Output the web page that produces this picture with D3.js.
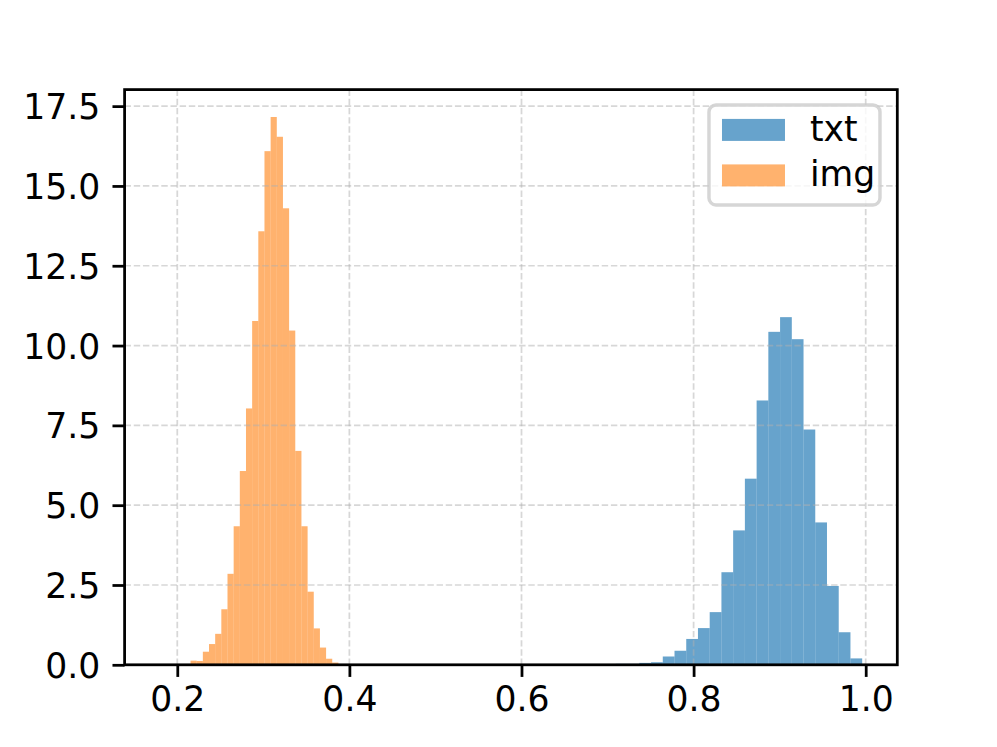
<!DOCTYPE html>
<html>
<head>
<meta charset="utf-8">
<script src="https://cdn.jsdelivr.net/npm/d3@7"></script>
<style>
  body { margin: 0; background: #fff; }
  text { font-family: "DejaVu Sans", sans-serif; fill: #000; }
</style>
</head>
<body>
<div id="chart"></div>
<script>
///////////////////////////////////////////////////////////////////////////////
//// Data /////////////////////////////////////////////////////////////////////
///////////////////////////////////////////////////////////////////////////////
// 30 equal bins per series, density heights
const seriesNames = ["txt", "img"];
const txtRange = [0.5870, 0.9959];
const txtDensity = [0, 0, 0, 0, 0, 0, 0, 0, 0, 0.03,
  0.03, 0.06, 0.08, 0.26, 0.44, 0.81, 1.15, 1.65, 2.90, 4.21,
  5.83, 8.28, 10.43, 10.89, 10.20, 7.37, 4.46, 2.47, 1.02, 0.20];
const imgRange = [0.1796, 0.3944];
const imgDensity = [0, 0, 0.02, 0, 0, 0.13, 0.12, 0.41, 0.65, 0.97,
  1.74, 2.85, 4.34, 6.07, 8.03, 10.77, 13.58, 16.09, 17.16, 16.54,
  14.30, 10.47, 6.70, 4.34, 2.29, 1.14, 0.54, 0.19, 0.07, 0.02];
const xTicks = [0.2, 0.4, 0.6, 0.8, 1.0];
const yTicks = [0, 2.5, 5, 7.5, 10, 12.5, 15, 17.5];

///////////////////////////////////////////////////////////////////////////////
//// Set up ///////////////////////////////////////////////////////////////////
///////////////////////////////////////////////////////////////////////////////
const W = 997, H = 747;
const margin = {top: 89.6, right: 99.7, bottom: 82.2, left: 124.6};
const width = W - margin.left - margin.right;
const height = H - margin.top - margin.bottom;
const pt = 249.3 / 72; // figure dpi

const color = d3.scaleOrdinal()
  .domain(seriesNames)
  .range(["#1f77b4", "#ff7f0e"]);
const alpha = {txt: 0.68, img: 0.6};

function toBins(range, values) {
  const w = (range[1] - range[0]) / values.length;
  return values.map((v, i) => ({x0: range[0] + i * w, x1: range[0] + (i + 1) * w, value: v}));
}
const series = [
  {name: "txt", bins: toBins(txtRange, txtDensity)},
  {name: "img", bins: toBins(imgRange, imgDensity)}
];

// matplotlib style autoscale: 5% x margins, y from 0 with 5% headroom
const lo = d3.min([txtRange[0], imgRange[0]]);
const hi = d3.max([txtRange[1], imgRange[1]]);
const pad = (hi - lo) * 0.05;
const x = d3.scaleLinear().domain([lo - pad, hi + pad]).range([0, width]);
const yMax = d3.max([d3.max(txtDensity), d3.max(imgDensity)]) * 1.05;
const y = d3.scaleLinear().domain([0, yMax]).range([height, 0]);

const svg = d3.select("#chart").append("svg")
  .attr("width", W)
  .attr("height", H);
const g = svg.append("g")
  .attr("transform", `translate(${margin.left}, ${margin.top})`);

///////////////////////////////////////////////////////////////////////////////
//// Bars /////////////////////////////////////////////////////////////////////
///////////////////////////////////////////////////////////////////////////////
series.forEach(s => {
  g.append("g")
    .attr("class", `hist-${s.name}`)
    .selectAll("rect")
    .data(s.bins.filter(d => d.value > 0))
    .enter().append("rect")
      .attr("x", d => x(d.x0))
      .attr("y", d => y(d.value))
      .attr("width", d => x(d.x1) - x(d.x0))
      .attr("height", d => y(0) - y(d.value))
      .style("fill", color(s.name))
      .style("fill-opacity", alpha[s.name]);
});

///////////////////////////////////////////////////////////////////////////////
//// Grid (drawn over patches, like matplotlib) ///////////////////////////////
///////////////////////////////////////////////////////////////////////////////
const grid = g.append("g").attr("class", "grid")
  .style("stroke", "#b0b0b0")
  .style("stroke-opacity", 0.5)
  .style("stroke-width", 0.5 * pt)
  .style("stroke-dasharray", `${3.7 * 0.5 * pt},${1.6 * 0.5 * pt}`);

grid.selectAll(".gx").data(xTicks).enter().append("line")
  .attr("x1", d => x(d)).attr("x2", d => x(d))
  .attr("y1", 0).attr("y2", height);
grid.selectAll(".gy").data(yTicks).enter().append("line")
  .attr("x1", 0).attr("x2", width)
  .attr("y1", d => y(d)).attr("y2", d => y(d));

///////////////////////////////////////////////////////////////////////////////
//// Axes /////////////////////////////////////////////////////////////////////
///////////////////////////////////////////////////////////////////////////////
const fontSize = 10 * pt;
const tickLen = 3.5 * pt;

const xAxis = g.append("g")
  .attr("transform", `translate(0, ${height})`)
  .call(d3.axisBottom(x).tickValues(xTicks).tickFormat(d3.format(".1f"))
    .tickSize(tickLen).tickPadding(3.5 * pt));
const yAxis = g.append("g")
  .call(d3.axisLeft(y).tickValues(yTicks).tickFormat(d3.format(".1f"))
    .tickSize(tickLen).tickPadding(3.5 * pt));

[xAxis, yAxis].forEach(a => {
  a.select(".domain").remove();
  a.selectAll(".tick line").style("stroke", "#000").style("stroke-width", 0.8 * pt);
  a.selectAll(".tick text")
    .style("font-size", `${fontSize}px`)
    .style("font-family", "DejaVu Sans");
});
xAxis.selectAll(".tick text").attr("dy", "0.62em");
yAxis.selectAll(".tick text").attr("dy", "0.36em");

// Spines
g.append("rect")
  .attr("width", width)
  .attr("height", height)
  .style("fill", "none")
  .style("stroke", "#000")
  .style("stroke-width", 0.8 * pt);

///////////////////////////////////////////////////////////////////////////////
//// Legend ///////////////////////////////////////////////////////////////////
///////////////////////////////////////////////////////////////////////////////
const lg = {w: 171, h: 100, rowH: 45.5, patchW: 63, patchH: 22};
const legend = g.append("g")
  .attr("transform", `translate(${width - 0.5 * fontSize - lg.w}, ${0.5 * fontSize - 2})`);

legend.append("rect")
  .attr("width", lg.w)
  .attr("height", lg.h)
  .attr("rx", 7)
  .style("fill", "#fff")
  .style("fill-opacity", 0.8)
  .style("stroke", "#cccccc")
  .style("stroke-opacity", 0.8)
  .style("stroke-width", 1 * pt);

const item = legend.selectAll(".item")
  .data(seriesNames)
  .enter().append("g")
    .attr("class", "item")
    .attr("transform", (d, i) => `translate(13, ${25 + i * lg.rowH})`);

item.append("rect")
  .attr("y", -lg.patchH / 2)
  .attr("width", lg.patchW)
  .attr("height", lg.patchH)
  .style("fill", d => color(d))
  .style("fill-opacity", d => alpha[d]);

item.append("text")
  .attr("x", lg.patchW + 25)
  .attr("y", 11)
  .style("font-size", `${fontSize}px`)
  .text(d => d);
</script>
</body>
</html>
